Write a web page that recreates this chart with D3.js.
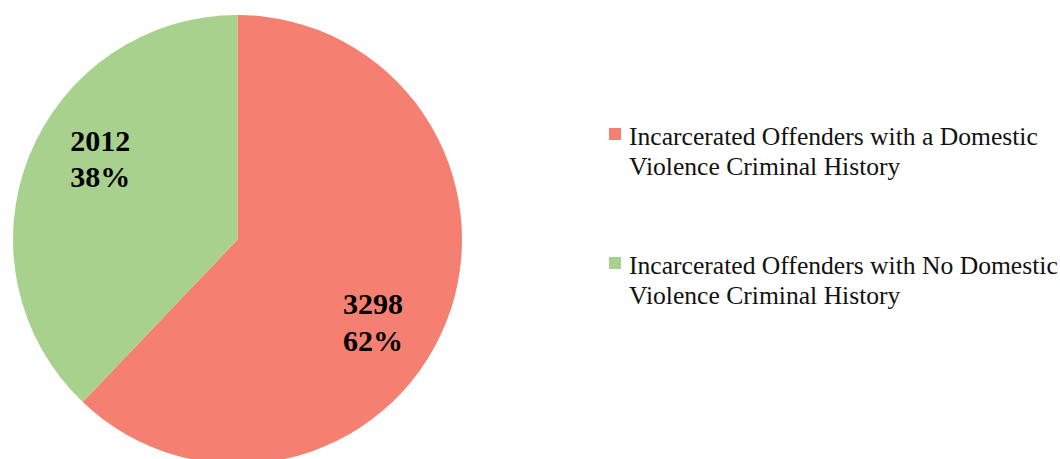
<!DOCTYPE html>
<html>
<head>
<meta charset="utf-8">
<script src="https://cdn.jsdelivr.net/npm/d3@7"></script>
<style>
  html, body { margin: 0; padding: 0; background: #fff; }
  svg { display: block; }
</style>
</head>
<body>
<svg id="chart" width="1060" height="459"></svg>
<script>
// data
const categories = [
  'Incarcerated Offenders with a Domestic Violence Criminal History',
  'Incarcerated Offenders with No Domestic Violence Criminal History'
];
const legendLines = [
  ['Incarcerated Offenders with a Domestic', 'Violence Criminal History'],
  ['Incarcerated Offenders with No Domestic', 'Violence Criminal History']
];
const values = [3298, 2012];
const colors = ['#F57F70', '#A9D18E'];

const width = 1060;
const height = 459;
const cx = 237.5, cy = 239.5, radius = 224.5;
const serif = "'Liberation Serif', 'Times New Roman', Times, serif";

const svg = d3.select('#chart').attr('font-family', serif);

// ======================= PIE ===============================
const pie = d3.pie().sort(null).value(d => d);
const arcs = pie(values);
const arc = d3.arc().innerRadius(0).outerRadius(radius);

const g = svg.append('g').attr('transform', `translate(${cx},${cy})`);

g.selectAll('path')
  .data(arcs)
  .enter()
  .append('path')
  .attr('d', arc)
  .attr('fill', (d, i) => colors[i]);

// labels sit a bit clockwise of the slice middle, like in the original
const labelRadius = 159;
const labelShift = [9.7, 8.6];   // degrees
const total = d3.sum(values);

const labels = g.selectAll('g.label')
  .data(arcs)
  .enter()
  .append('g')
  .attr('class', 'label')
  .attr('transform', (d, i) => {
    const a = (d.startAngle + d.endAngle) / 2 + labelShift[i] * Math.PI / 180;
    const p = d3.pointRadial(a, labelRadius);
    return `translate(${p[0]},${p[1]})`;
  });

labels.append('text')
  .attr('text-anchor', 'middle')
  .attr('y', -8.5)
  .attr('font-family', serif)
  .attr('font-size', 30)
  .attr('font-weight', 'bold')
  .text(d => d.value);

labels.append('text')
  .attr('text-anchor', 'middle')
  .attr('y', 28)
  .attr('font-family', serif)
  .attr('font-size', 30)
  .attr('font-weight', 'bold')
  .text(d => Math.round(d.value / total * 100) + '%');

// ======================= LEGEND ===============================
const legendY = d3.scalePoint().domain(categories).range([145, 274]);

const legend = svg.append('g').selectAll('g')
  .data(categories)
  .enter()
  .append('g')
  .attr('transform', d => `translate(609,${legendY(d)})`);

legend.append('rect')
  .attr('x', 0)
  .attr('y', -17)
  .attr('width', 12)
  .attr('height', 12)
  .attr('fill', (d, i) => colors[i]);

legend.append('text')
  .attr('x', 20)
  .attr('font-family', serif)
  .attr('font-size', 25.6)
  .attr('fill', '#111')
  .selectAll('tspan')
  .data((d, i) => legendLines[i])
  .enter()
  .append('tspan')
  .attr('x', 20)
  .attr('dy', (d, j) => j === 0 ? 0 : 30)
  .text(d => d);
</script>
</body>
</html>
